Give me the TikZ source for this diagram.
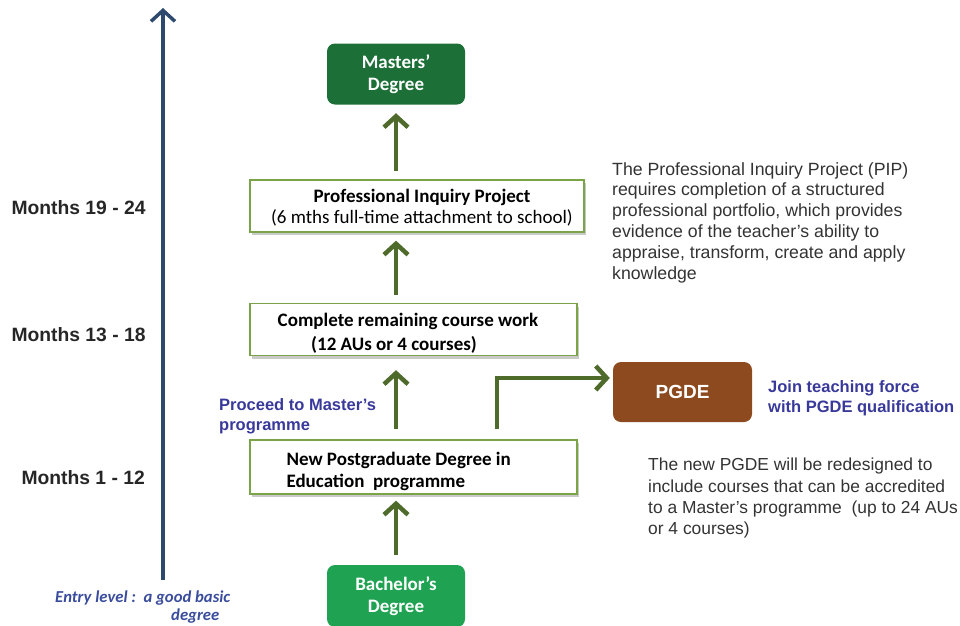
\documentclass[tikz,border=0pt]{standalone}
\usepackage{fontspec}
\setmainfont{Liberation Sans}
\newfontfamily\calfont{Carlito}
\usetikzlibrary{arrows.meta,shadows}
\definecolor{axisblue}{HTML}{2D4A6E}
\definecolor{arrgreen}{HTML}{4E6B2C}
\definecolor{boxgreen}{HTML}{7BA347}
\definecolor{mastgreen}{HTML}{1B6F37}
\definecolor{bachgreen}{HTML}{1FA353}
\definecolor{pgdebrown}{HTML}{8E4A1F}
\definecolor{labblue}{HTML}{38399A}
\definecolor{entryblue}{HTML}{3A4C9C}
\definecolor{txtgrey}{HTML}{333333}
\tikzset{
  x=1pt,y=-1pt,
  stagebox/.style={draw=boxgreen,line width=1.3pt,fill=white,minimum width=328pt,minimum height=52pt,inner sep=0pt,
    drop shadow={shadow xshift=2pt,shadow yshift=-3pt,opacity=0.35,fill=black!60},font=\calfont\fontsize{19}{22}\selectfont},
  degbox/.style={rounded corners=8pt,minimum width=138pt,minimum height=61pt,inner sep=0pt,text=white,
    font=\calfont\bfseries\fontsize{19}{22}\selectfont,align=center},
  flow/.style={draw=arrgreen,line width=4.5pt,-{Straight Barb[length=11pt,width=24pt,line width=4.5pt]}},
  months/.style={font=\bfseries\fontsize{19.3}{22}\selectfont,anchor=west,text=black!85},
  sidelab/.style={font=\bfseries\fontsize{16.5}{20}\selectfont,text=labblue,align=left,anchor=north west,inner sep=0pt},
  desc/.style={text=txtgrey,align=left,anchor=north west,inner sep=0pt},
}
\begin{document}
\begin{tikzpicture}
\useasboundingbox (0,0) rectangle (960,625);
% axis
\coordinate (axbot) at (163,580);
\coordinate (axtop) at (163,8);
\draw[axisblue,line width=3.5pt,-{Straight Barb[length=11pt,width=24pt,line width=3.5pt]}] (axbot) -- (axtop);
% boxes
\node[degbox,fill=mastgreen] (mast) at (396,74) {Masters’\\Degree};
\node[stagebox,minimum width=334pt] (pip) at (417,206) {};
\node[font=\calfont\fontsize{19}{21}\selectfont,align=center] (piptxt) at (422,208) {\textbf{Professional Inquiry Project}\\(6 mths full-time attachment to school)};
\node[stagebox,minimum width=327pt] (crcw) at (413.5,329.5) {};
\node[font=\calfont\bfseries\fontsize{19}{24}\selectfont,align=center] (crcwtxt) at (408,333) {Complete remaining course work\\\hspace*{-28pt}(12 AUs or 4 courses)};
\node[stagebox,minimum width=327pt,minimum height=54pt] (npde) at (413.5,467) {};
\node[font=\calfont\bfseries\fontsize{19}{22}\selectfont,align=left,anchor=west] (npdetxt) at (283,471) {New Postgraduate Degree in\\Education\ \ programme};
\node[degbox,fill=pgdebrown,minimum width=139pt,minimum height=60pt,font=\bfseries\fontsize{19}{22}\selectfont] (pgde) at (682.5,392) {PGDE};
\node[degbox,fill=bachgreen,minimum height=62pt] (bach) at (396,596) {Bachelor’s\\Degree};
% connectors
\draw[flow] ([yshift=8pt]pip.north -| mast) -- ([yshift=-8.5pt]mast.south);
\draw[flow] ([yshift=7.5pt]crcw.north -| mast) -- ([yshift=-8pt]pip.south -| mast);
\draw[flow] ([yshift=10pt]npde.north -| mast) -- ([yshift=-14pt]crcw.south -| mast);
\draw[flow] ([yshift=10pt]bach.north) -- ([yshift=-6pt]npde.south -| bach);
\coordinate (elb) at (497,378);
\draw[flow] ([yshift=10pt]npde.north -| elb) -- (elb) -- ([xshift=-3pt]pgde.west |- elb);
% month labels
\node[months] (m1) at (8,208) {Months 19 - 24};
\node[months] (m2) at (8,335) {Months 13 - 18};
\node[months] (m3) at (18,478) {Months 1 - 12};
% side labels
\node[sidelab] (proc) at (219,398) {Proceed to Master’s\\programme};
\node[sidelab] (join) at (768,380) {Join teaching force\\with PGDE qualification};
\node[desc,font=\fontsize{17.7}{20.8}\selectfont] (pipd) at (612,162) {The Professional Inquiry Project (PIP)\\requires completion of a structured\\professional portfolio, which provides\\evidence of the teacher’s ability to\\appraise, transform, create and apply\\knowledge};
\node[desc,font=\fontsize{17.4}{21.3}\selectfont] (pgded) at (648,458) {The new PGDE will be redesigned to\\include courses that can be accredited\\to a Master’s programme\ \ (up to 24 AUs\\or 4 courses)};
\node[font=\calfont\bfseries\itshape\fontsize{16.7}{17.5}\selectfont,text=entryblue,align=left,anchor=north west,inner sep=0pt] (entry) at (55,591) {Entry level :\ \ a good basic\\\hspace*{116pt}degree};
\end{tikzpicture}
\end{document}
